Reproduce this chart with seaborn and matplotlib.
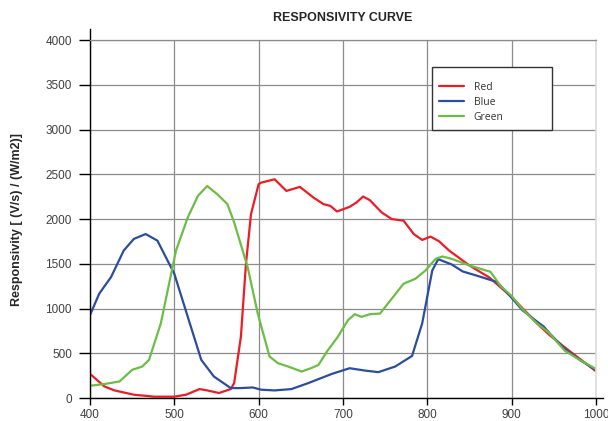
import pandas as pd
import matplotlib
matplotlib.use("Agg")
import matplotlib.pyplot as plt
import seaborn as sns

# -----------------------------
# Data
# -----------------------------
red_nm = [400, 417, 429, 452, 476, 500, 514, 530, 539, 553, 567, 571, 579, 585, 591,
          600, 603, 619, 633, 649, 665, 677, 685, 693, 708, 716, 724, 732, 746, 758,
          772, 784, 794, 804, 814, 826, 850, 874, 900, 921, 929, 945, 963, 982, 1000]
red_val = [270, 130, 85, 37, 15, 15, 37, 100, 85, 56, 100, 167, 685, 1500, 2056,
           2389, 2407, 2445, 2315, 2360, 2241, 2167, 2148, 2085, 2137, 2185, 2252, 2211, 2074, 2000,
           1982, 1833, 1767, 1804, 1752, 1648, 1482, 1345, 1130, 926, 844, 704, 567, 430, 300]

blue_nm = [400, 411, 425, 440, 452, 466, 480, 490, 500, 516, 532, 547, 567, 579, 593,
           603, 619, 639, 659, 687, 708, 726, 742, 762, 782, 794, 800, 806, 813, 829,
           842, 858, 883, 900, 913, 929, 938, 946, 963, 982, 1000]
blue_val = [926, 1167, 1352, 1648, 1778, 1833, 1759, 1574, 1389, 907, 426, 240, 111, 111, 118,
            93, 85, 100, 167, 270, 333, 307, 289, 352, 470, 833, 1130, 1426, 1552, 1493,
            1415, 1370, 1296, 1122, 981, 863, 800, 715, 549, 419, 315]

green_nm = [400, 417, 435, 450, 462, 470, 484, 502, 516, 528, 539, 551, 563, 571, 587,
            599, 613, 623, 635, 651, 662, 671, 681, 694, 706, 714, 722, 732, 744, 758,
            772, 786, 798, 810, 818, 829, 850, 868, 875, 887, 900, 913, 929, 944, 963, 982, 1000]
green_val = [137, 156, 185, 315, 352, 426, 833, 1648, 2019, 2259, 2370, 2278, 2167, 1963, 1463,
             944, 463, 389, 352, 296, 333, 370, 519, 685, 870, 937, 907, 937, 944, 1111,
             1278, 1333, 1426, 1556, 1582, 1556, 1482, 1430, 1411, 1252, 1141, 993, 844, 733, 530, 419, 326]

channels = ["Red", "Blue", "Green"]
colors = {"Red": "#ED1C24", "Blue": "#2B4C9F", "Green": "#6CBD45"}

# -----------------------------
# Build long-form table
# -----------------------------
frames = []
for name, xs, ys in [("Red", red_nm, red_val), ("Blue", blue_nm, blue_val), ("Green", green_nm, green_val)]:
    frames.append(pd.DataFrame({"wavelength": xs, "responsivity": ys, "channel": name}))
df = pd.concat(frames, ignore_index=True)

# -----------------------------
# Plot
# -----------------------------
sns.set_style("white")
plt.rcParams["font.family"] = ["Liberation Sans", "DejaVu Sans"]

fig = plt.figure(figsize=(6.08, 4.21), dpi=100)
ax = fig.add_axes([0.148, 0.0546, 0.832, 0.850])

sns.lineplot(data=df, x="wavelength", y="responsivity", hue="channel",
             hue_order=channels, palette=colors, estimator=None, sort=True,
             linewidth=1.6, ax=ax)

ax.set_xlim(400, 1000)
ax.set_ylim(0, 4000)
ax.set_xticks(range(400, 1001, 100))
ax.set_yticks(range(0, 4001, 500))
ax.grid(True, color="#8C8C8C", linewidth=0.9)
ax.set_axisbelow(True)

for side in ["top", "right"]:
    ax.spines[side].set_visible(True)
ax.spines["top"].set_color("#8C8C8C")
ax.spines["top"].set_linewidth(0.9)
ax.spines["right"].set_color("#DDDDDD")
ax.spines["right"].set_linewidth(1.2)
ax.spines["left"].set_color("black")
ax.spines["left"].set_linewidth(1.0)
ax.spines["left"].set_bounds(0, 4130)
ax.spines["bottom"].set_color("black")
ax.spines["bottom"].set_linewidth(1.0)
ax.spines["bottom"].set_bounds(400, 1008)

ax.tick_params(axis="y", which="major", direction="out", length=8, width=1.0,
               color="black", pad=5, labelsize=8.5, labelcolor="#404040", left=True)
ax.tick_params(axis="x", which="major", direction="out", length=5, width=1.0,
               color="black", pad=3, labelsize=8.5, labelcolor="#404040", bottom=True)

ax.set_xlabel("")
ax.set_ylabel("Responsivity [ (V/s) / (W/m2)]", fontsize=9, fontweight="bold", labelpad=16)
ax.set_title("RESPONSIVITY CURVE", fontsize=9, fontweight="bold", pad=14)

leg = ax.legend(loc="upper left", bbox_to_anchor=(0.676, 0.5, 0.237, 0.425),
                mode="expand", frameon=True,
                fancybox=False, edgecolor="#333333", framealpha=1,
                prop={"family": ["Open Sans", "DejaVu Sans"], "size": 7.5},
                title=" ", title_fontsize=3,
                handlelength=2.4, labelspacing=0.36, borderpad=0.7,
                handletextpad=0.9, borderaxespad=0)
leg.get_frame().set_linewidth(1.0)
for txt in leg.get_texts():
    txt.set_color("#333333")

fig.savefig("out.png", dpi=100)
plt.close(fig)
print("Saved: out.png")
